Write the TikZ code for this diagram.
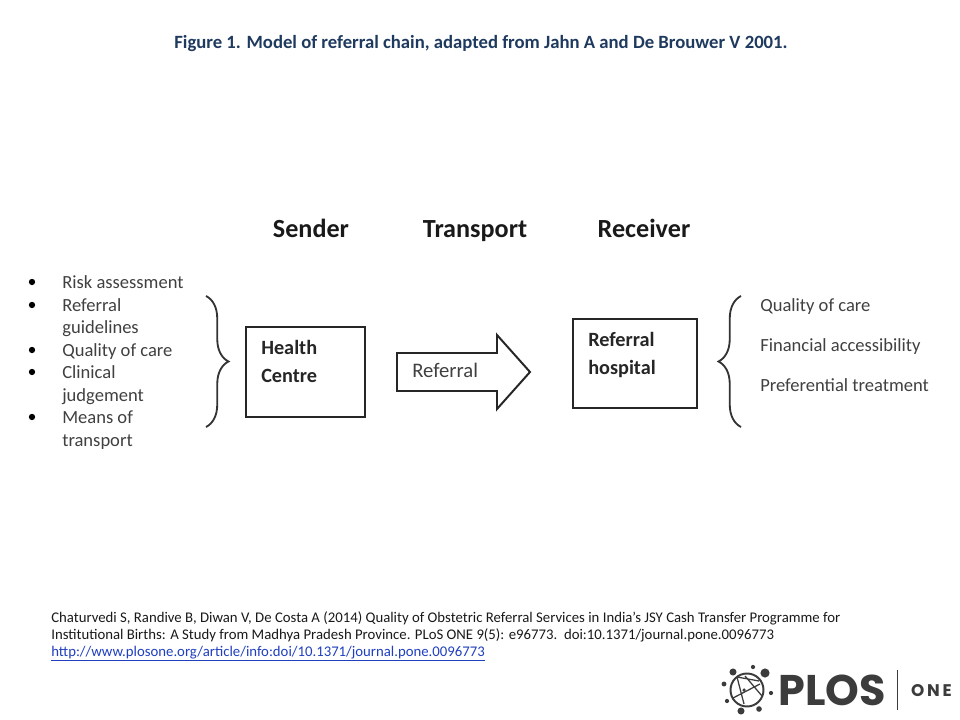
\documentclass[tikz,border=0pt]{standalone}
\usepackage{fontspec}
\usepackage{xcolor}
\setmainfont{Carlito}
\newfontfamily\logofont{Poppins}
\usetikzlibrary{positioning,decorations.pathreplacing}
\definecolor{titleblue}{HTML}{1F3A5F}
\definecolor{itemgrey}{HTML}{404040}
\definecolor{linkblue}{HTML}{1F3FBF}
\definecolor{logogrey}{HTML}{3C3C3C}
\tikzset{
  head/.style={anchor=base, inner sep=0pt, font=\fontsize{18.6}{20}\selectfont\bfseries, text=black!90},
  item/.style={anchor=base west, inner sep=0pt, font=\fontsize{13.2}{15}\selectfont, text=itemgrey},
  dot/.style={circle, fill=black, inner sep=0pt, minimum size=4.5pt},
  boxed/.style={rectangle, draw=black!85, line width=1.4pt, fill=white},
  boxtext/.style={anchor=base west, inner sep=0pt, font=\fontsize{14.4}{16}\selectfont\bfseries, text=black!85},
  curly/.style={decorate, decoration={brace, amplitude=16pt, aspect=0.5}, draw=black!80, line width=1.3pt},
  cite/.style={anchor=base west, inner sep=0pt, font=\fontsize{10.5}{12}\selectfont, text=black!90},
  logodot/.style={circle, fill=logogrey, inner sep=0pt}
}
\begin{document}
\begin{tikzpicture}[x=0.025cm, y=-0.025cm]
  \useasboundingbox (0,0) rectangle (960,720);
  \node (title) [anchor=base, inner sep=0pt, font=\fontsize{13.3}{15}\selectfont\bfseries, text=titleblue] at (481,49) {Figure 1. Model of referral chain, adapted from Jahn A and De Brouwer V 2001.};
  % column heads
  \node (sender) [head] at (311,237.5) {Sender};
  \node (transport) [head] at (475,237.5) {Transport};
  \node (receiver) [head] at (644,237.5) {Receiver};
  % left list
  \foreach \name/\ypos in {a/282,b/305,c/350,d/372,e/417}
    \node (dot\name) [dot] at (32,\ypos) {};
  \node (risk) [item] at (62,289) {Risk assessment};
  \node (guide) [item] at (62,312) {Referral};
  \node (guidetwo) [item] at (62,334) {guidelines};
  \node (quality) [item] at (62,356.5) {Quality of care};
  \node (clinical) [item] at (62,379) {Clinical};
  \node (judge) [item] at (62,401.5) {judgement};
  \node (means) [item] at (62,424) {Means of};
  \node (meanstwo) [item] at (62,446.5) {transport};
  % braces
  \coordinate (lbracetop) at (206,296);
  \coordinate (lbracebot) at (206,427);
  \coordinate (rbracetop) at (741,296);
  \coordinate (rbracebot) at (741,427);
  \draw[curly] (lbracetop) -- (lbracebot);
  \draw[curly] (rbracebot) -- (rbracetop);
  % boxes
  \path[boxed] (246,327) rectangle (365,417);
  \node (health) [boxtext] at (261,354.5) {Health};
  \node (centre) [boxtext] at (261,383) {Centre};
  \path[boxed] (573,319) rectangle (697,408);
  \node (hospital) [boxtext] at (588,346.5) {Referral};
  \node (hospitaltwo) [boxtext] at (588,374.5) {hospital};
  % arrow
  \draw[black!85, line width=1.4pt, fill=white] (397,353) -- (497,353) -- (497,335) -- (530,372) -- (497,409) -- (497,391) -- (397,391) -- cycle;
  \node (referral) [item, font=\fontsize{14.7}{16}\selectfont] at (412,378) {Referral};
  % right list
  \node (care) [item] at (760,312) {Quality of care};
  \node (finance) [item] at (760,352) {Financial accessibility};
  \node (prefer) [item] at (760,392) {Preferential treatment};
  % citation
  \node (citeone) [cite] at (51,622) {Chaturvedi S, Randive B, Diwan V, De Costa A (2014) Quality of Obstetric Referral Services in India's JSY Cash Transfer Programme for};
  \node (citetwo) [cite] at (51,639) {Institutional Births: A Study from Madhya Pradesh Province. PLoS ONE 9(5): e96773.\ \ doi:10.1371/journal.pone.0096773};
  \node (citelink) [cite, text=linkblue] at (51,656) {\underline{http://www.plosone.org/article/info:doi/10.1371/journal.pone.0096773}};
  % logo
  \draw[logogrey, line width=1.4pt] (747,690) circle (16.5);
  \draw[logogrey, line width=0.9pt] (737,677) -- (744,704) (733,698) -- (760,684) (745,676) -- (762,696) (737,677) -- (759,681);
  \foreach \xpos/\ypos/\size in {733/672/5, 753/667/3, 765/673/6.5, 724/684/3.5, 727/701/3, 741/711/5, 759/709/4, 771/693/3, 744/690/2.5}
    \node[logodot, minimum size=\size pt] at (\xpos,\ypos) {};
  \node (plos) [inner sep=0pt, font=\fontsize{30.5}{32}\selectfont\logofont\bfseries, text=logogrey] at (832,690) {PLOS};
  \coordinate (rulea) at (897,670);
  \coordinate (ruleb) at (897,710);
  \draw[logogrey, line width=0.7pt] (rulea) -- (ruleb);
  \node (one) [inner sep=0pt, font=\fontsize{12}{14}\selectfont\logofont\bfseries, text=logogrey] at (931.5,691) {O\kern2pt N\kern2pt E};
\end{tikzpicture}
\end{document}
